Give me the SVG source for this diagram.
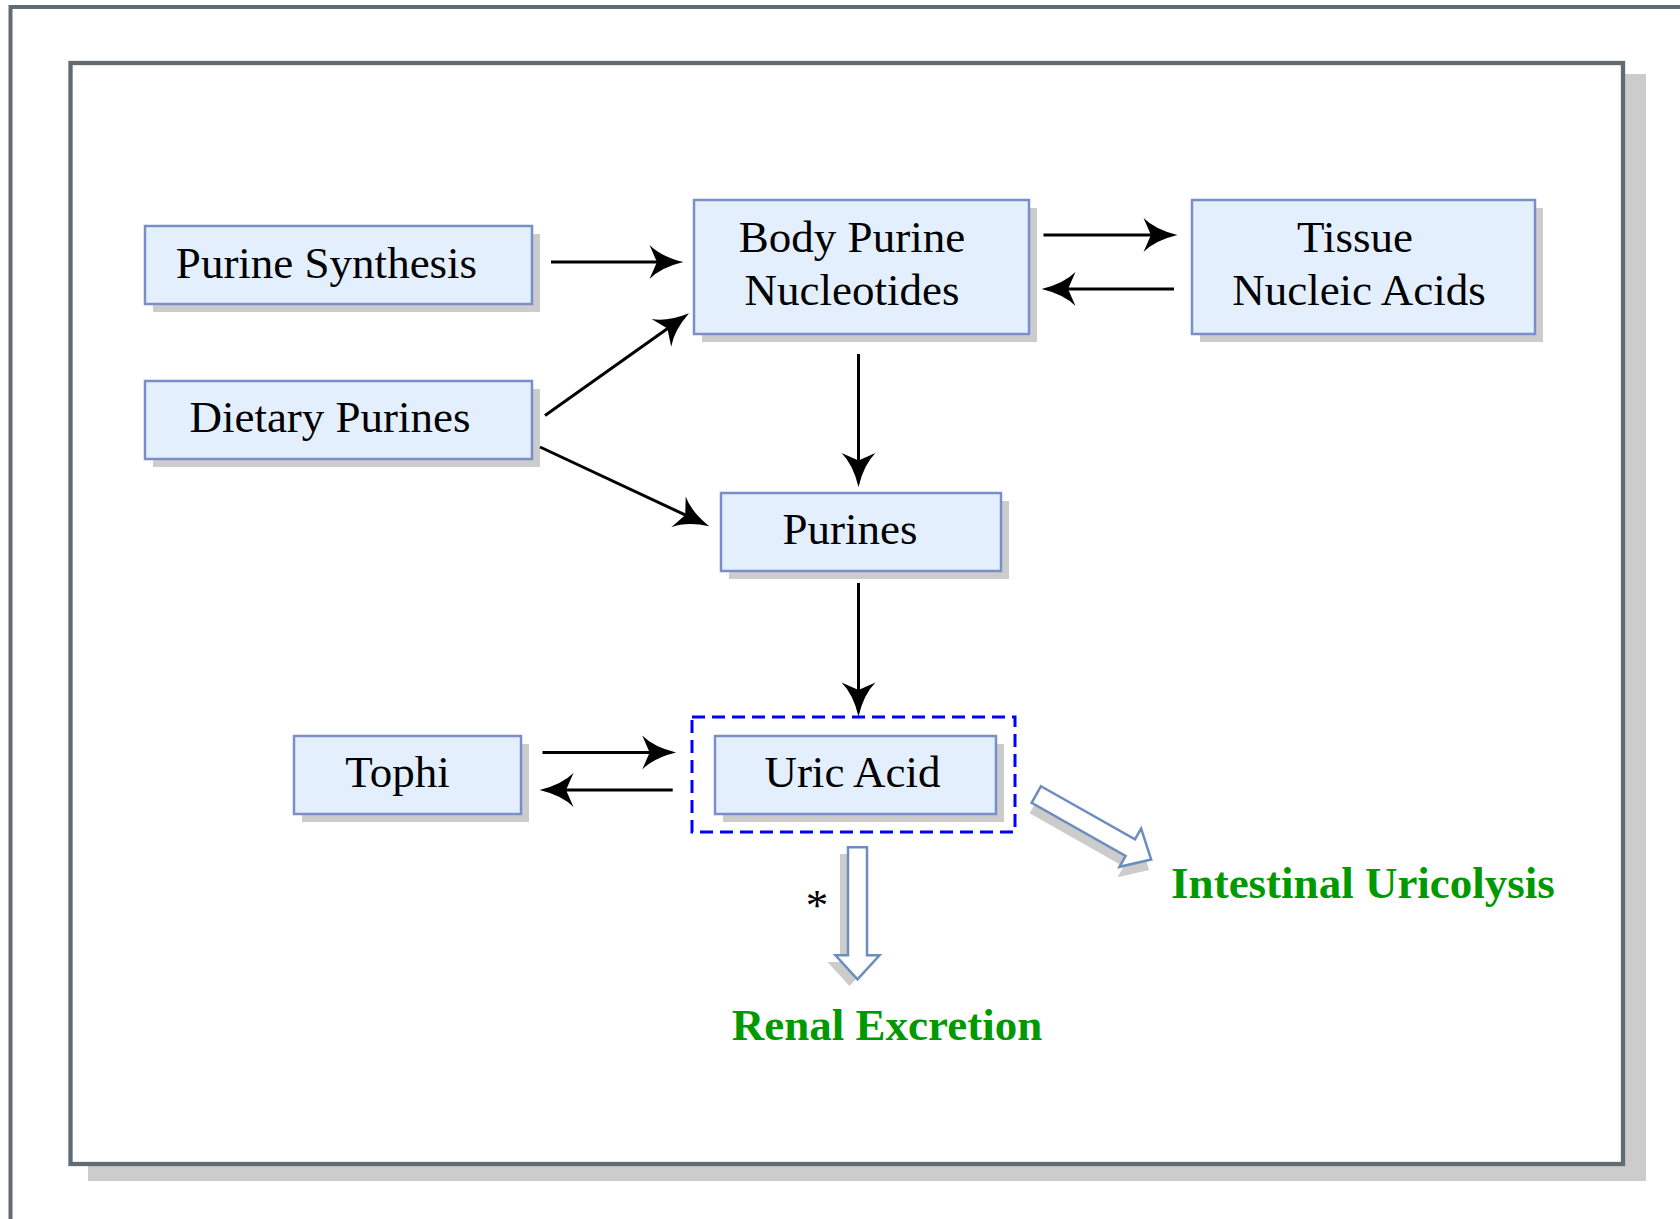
<svg xmlns="http://www.w3.org/2000/svg" width="1680" height="1219" viewBox="0 0 1680 1219">
<style>
.frame{fill:none;stroke:#606b73;stroke-width:4}
.shadow{fill:#cccccc;stroke:none}
.box{fill:#e4effd;stroke:#7a8fc8;stroke-width:2.5}
.lbl{font-family:"Liberation Serif","Times New Roman",serif;font-size:45px;fill:#000;text-anchor:middle}
.out{font-family:"Liberation Serif","Times New Roman",serif;font-size:45px;font-weight:bold;fill:#009900;text-anchor:middle}
.conn{fill:none;stroke:#000;stroke-width:3;marker-end:url(#ah)}
.blk{fill:#ffffff;stroke:#6c8ebf;stroke-width:2.5;stroke-linejoin:miter}
</style>
<defs>
<marker id="ah" markerUnits="userSpaceOnUse" markerWidth="36" markerHeight="36" viewBox="0 0 34 34" refX="9" refY="17" orient="auto">
<path d="M1,1 Q12,12 33,17 Q12,22 1,33 L8,17 Z" fill="#000"/>
</marker>
<path id="blockArrow" d="M0,-9.5 L108,-9.5 L108,-22 L132,0 L108,22 L108,9.5 L0,9.5 Z"/>
</defs>
<rect x="0" y="0" width="1680" height="1219" fill="#ffffff"/>
<rect class="frame" x="10.5" y="7" width="1720" height="1260"/>
<rect class="shadow" x="88" y="74" width="1558" height="1107"/>
<rect x="70.5" y="63" width="1552.5" height="1101" fill="#ffffff" stroke="#606b73" stroke-width="4.3"/>

<g id="purine-synthesis">
<rect class="shadow" x="153" y="234" width="387" height="78"/>
<rect class="box" x="145" y="226" width="387" height="78"/>
<text class="lbl" x="326.5" y="278">Purine Synthesis</text>
</g>
<g id="dietary-purines">
<rect class="shadow" x="153" y="389" width="387" height="78"/>
<rect class="box" x="145" y="381" width="387" height="78"/>
<text class="lbl" x="330" y="432">Dietary Purines</text>
</g>
<g id="body-purine-nucleotides">
<rect class="shadow" x="702" y="208" width="335" height="134"/>
<rect class="box" x="694" y="200" width="335" height="134"/>
<text class="lbl" x="852" y="252">Body Purine</text>
<text class="lbl" x="852" y="305">Nucleotides</text>
</g>
<g id="tissue-nucleic-acids">
<rect class="shadow" x="1200" y="208" width="343" height="134"/>
<rect class="box" x="1192" y="200" width="343" height="134"/>
<text class="lbl" x="1355" y="252">Tissue</text>
<text class="lbl" x="1359" y="305">Nucleic Acids</text>
</g>
<g id="purines">
<rect class="shadow" x="729" y="501" width="280" height="78"/>
<rect class="box" x="721" y="493" width="280" height="78"/>
<text class="lbl" x="850" y="544">Purines</text>
</g>
<g id="tophi">
<rect class="shadow" x="302" y="744" width="227" height="78"/>
<rect class="box" x="294" y="736" width="227" height="78"/>
<text class="lbl" x="397.5" y="787">Tophi</text>
</g>
<g id="uric-acid">
<rect x="692" y="717" width="323" height="115" fill="none" stroke="#0000ff" stroke-width="3" stroke-dasharray="13 7"/>
<rect class="shadow" x="723" y="744" width="281" height="78"/>
<rect class="box" x="715" y="736" width="281" height="78"/>
<text class="lbl" x="852.5" y="787">Uric Acid</text>
</g>
<g id="renal-excretion">
<text class="out" x="887" y="1040">Renal Excretion</text>
</g>
<g id="intestinal-uricolysis">
<text class="out" x="1363" y="898">Intestinal Uricolysis</text>
</g>

<g id="connectors">
<line class="conn" x1="551" y1="262" x2="658" y2="262"/>
<line class="conn" x1="545" y1="415.5" x2="668.3" y2="328"/>
<line class="conn" x1="540" y1="447" x2="686.2" y2="515.4"/>
<line class="conn" x1="1043.5" y1="235" x2="1152" y2="235"/>
<line class="conn" x1="1174" y1="289" x2="1067" y2="289"/>
<line class="conn" x1="858.5" y1="354" x2="858.5" y2="461.5"/>
<line class="conn" x1="858.5" y1="583" x2="858.5" y2="691"/>
<line class="conn" x1="542.5" y1="752.5" x2="650.7" y2="752.5"/>
<line class="conn" x1="672.7" y1="790" x2="565" y2="790"/>
<use href="#blockArrow" class="shadow" transform="translate(849.5,854) rotate(90)"/>
<use href="#blockArrow" class="blk" transform="translate(857.5,847.3) rotate(90)"/>
<use href="#blockArrow" class="shadow" transform="translate(1034.3,805) rotate(29.5)"/>
<use href="#blockArrow" class="blk" transform="translate(1036.3,794.5) rotate(29.5)"/>
<text class="lbl" x="817" y="920">*</text>
</g>
</svg>
